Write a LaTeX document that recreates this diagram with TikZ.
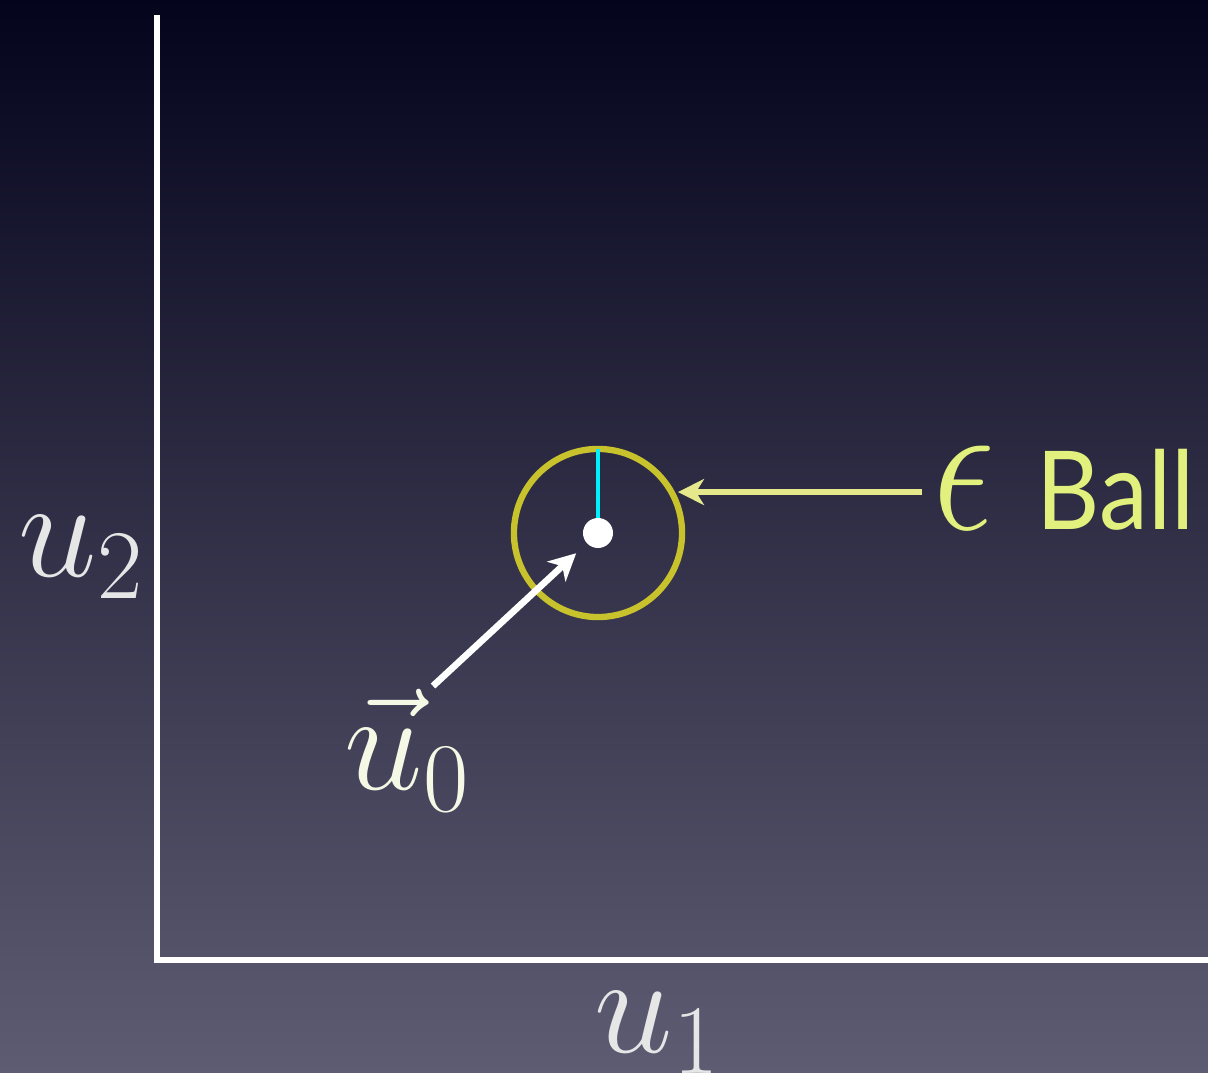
\RequirePackage{fix-cm}
\documentclass[tikz,border=0pt]{standalone}
\usepackage{fontspec}
\newfontfamily\ballfont[FakeStretch=0.9]{Lato}
\usetikzlibrary{arrows.meta, positioning}
\usepackage{xcolor}
\definecolor{BgTop}{HTML}{04041C}
\definecolor{BgBottom}{HTML}{5E5C73}
\definecolor{Ring}{HTML}{C8C22C}
\definecolor{Radius}{HTML}{00F0FF}
\definecolor{EpsText}{HTML}{E2F17E}
\definecolor{EpsArrow}{HTML}{E6E88C}
\definecolor{AxisText}{HTML}{E6E6E6}
\definecolor{VecText}{HTML}{F4F8E4}

\begin{document}
\begin{tikzpicture}[
            x=0.01cm, y=-0.01cm,
            axis/.style={draw=white, line width=1.6pt},
            ring/.style={
                circle,
                draw=Ring,
                line width=1.8pt,
                minimum size=1.68cm,
                inner sep=0pt
            },
            dot/.style={circle, fill=white, minimum size=0.30cm, inner sep=0pt},
            rline/.style={draw=Radius, line width=1.3pt, shorten >=0.9pt},
            pointer/.style={-{Stealth[length=0.27cm, width=0.27cm, inset=0.08cm]}, draw=white, line width=1.9pt, shorten >=0.14cm},
            epsarrow/.style={-{Stealth[length=0.26cm, width=0.26cm, inset=0.08cm]}, draw=EpsArrow, line width=1.5pt, shorten >=0.03cm},
            mathlabel/.style={anchor=base west, inner sep=0pt, text=AxisText, font=\fontsize{40}{44}\selectfont}
        ]
            \useasboundingbox (0,0) rectangle (1208,1073);
            \shade[top color=BgTop, bottom color=BgBottom] (0,0) rectangle (1208,1073);

            % Axes
            \coordinate (origin) at (157,960);
            \coordinate (ytop) at (157,15);
            \coordinate (xend) at (1208,960);
            \draw[axis] (ytop) -- (origin) -- (xend);
            \node[mathlabel] (utwo) at (18,577) {$u_2$};
            \node[mathlabel] (uone) at (594,1052) {$u_1$};

            % Ball round the point
            \node[ring] (ball) at (598,533) {};
            \draw[rline] (ball.center) -- (ball.north);
            \node[dot] (point) at (598,533) {};

            % Labels and pointers
            \node[mathlabel, text=VecText] (uvec) at (344,790) {$\vec{u}_0$};
            \coordinate (tail) at (433,686);
            \draw[pointer] (tail) -- (point);
            \node[anchor=base west, inner sep=3pt, text=EpsText] (eps) at (922,530)
                {{\fontsize{44}{44}\selectfont\scalebox{1}[1.25]{$\epsilon$}}\hspace{12pt}{\ballfont\fontsize{31}{34}\selectfont Ball}};
            \draw[epsarrow] (eps.west |- ball.28) -- (ball.28);
        \end{tikzpicture}
\end{document}
